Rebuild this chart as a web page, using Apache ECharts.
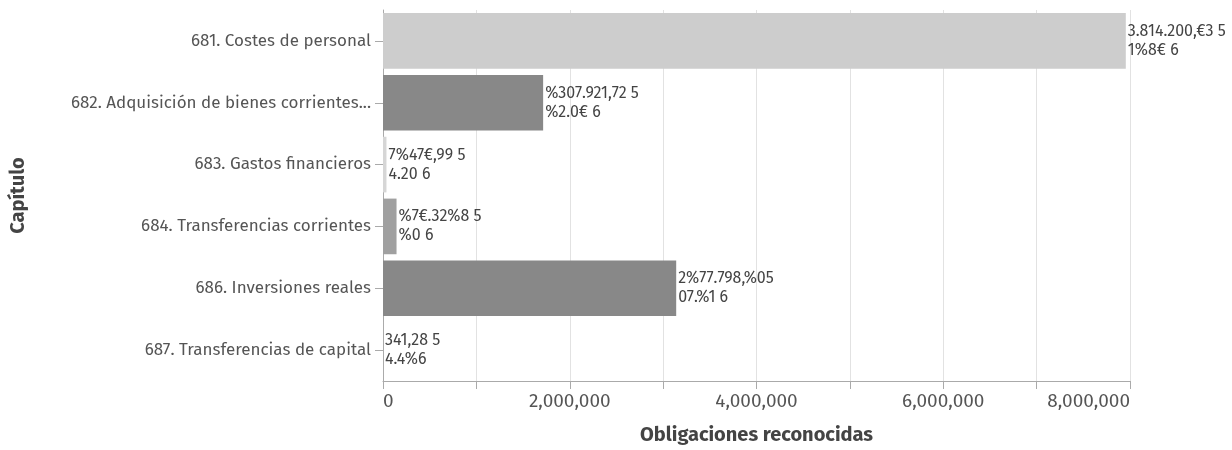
<!DOCTYPE html>
<html>
<head>
<meta charset="utf-8">
<script src="https://cdn.jsdelivr.net/npm/echarts@6/dist/echarts.min.js"></script>
<style>html,body{margin:0;padding:0;background:#fff}#c{width:1232px;height:450px}</style>
</head>
<body>
<div id="c"></div>
<script>
const categories = ["681. Costes de personal","682. Adquisición de bienes corrientes...","683. Gastos financieros","684. Transferencias corrientes","686. Inversiones reales","687. Transferencias de capital"];
const values = [7955000, 1715000, 37000, 145000, 3140000, 341];
const barColors = ["#cdcdcd","#888888","#d6d6d6","#a0a0a0","#888888","#e0e0e0"];
const barLabels = ["3.814.200,€3 5\n1%8€ 6","%307.921,72 5\n%2.0€ 6","7%47€,99 5\n4.20 6","%7€.32%8 5\n%0 6","2%77.798,%05\n07.%1 6","341,28 5\n4.4%6"];
const xTicks = [0,2000000,4000000,6000000,8000000];

const font = "'Fira Sans', 'Open Sans', Lato, sans-serif";
const chart = echarts.init(document.getElementById('c'));
chart.setOption({
  animation:false,
  grid:{left:383,right:102,top:10,bottom:68,containLabel:false},
  xAxis:{
    type:'value',min:0,max:8000000,interval:1000000,
    name:'Obligaciones reconocidas',nameLocation:'middle',nameGap:44,
    nameTextStyle:{fontFamily:font,fontWeight:'bold',fontSize:20,color:'#444'},
    axisLine:{show:true,lineStyle:{color:'#aaa'}},
    axisTick:{show:true,length:8,lineStyle:{color:'#aaa'}},
    axisLabel:{fontFamily:font,fontSize:19,color:'#555',margin:11,
      alignMinLabel:'left',alignMaxLabel:'right',
      formatter:v=> xTicks.includes(v) ? v.toLocaleString('en-US') : ''},
    splitLine:{show:true,lineStyle:{color:'#e2e2e2'}}
  },
  yAxis:{
    type:'category',data:categories,inverse:true,
    name:'Capítulo',nameLocation:'middle',nameGap:355,nameRotate:90,
    nameTextStyle:{fontFamily:font,fontWeight:'bold',fontSize:20,color:'#444'},
    axisLine:{show:true,lineStyle:{color:'#aaa'}},
    axisTick:{show:true,alignWithLabel:true,length:8,lineStyle:{color:'#aaa'}},
    axisLabel:{fontFamily:font,fontSize:17,color:'#555',margin:12},
    splitLine:{show:false}
  },
  series:[{
    type:'bar',barCategoryGap:'10%',
    data:values.map((v,i)=>({value:v,itemStyle:{color:barColors[i]},label:{formatter:barLabels[i]}})),
    label:{show:true,position:'right',distance:2,fontFamily:font,fontSize:16,color:'#444',lineHeight:19,align:'left'}
  }]
});
</script>
</body>
</html>
